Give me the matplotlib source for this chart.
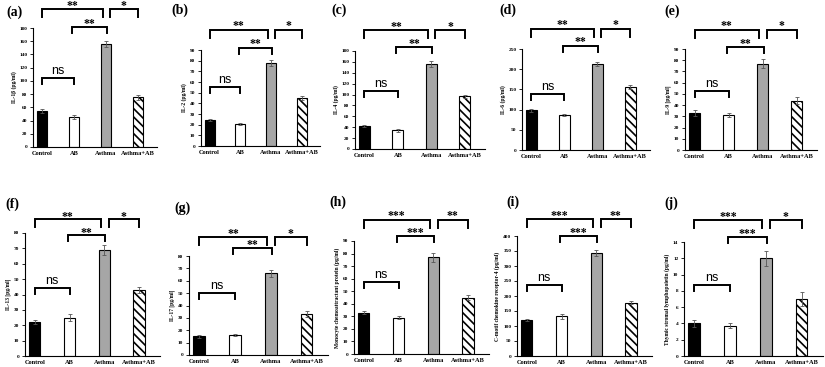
import numpy as np
import matplotlib
matplotlib.use("Agg")
import matplotlib.pyplot as plt
import matplotlib.transforms as mtransforms

plt.rcParams["font.family"] = ["Liberation Serif", "DejaVu Serif"]
plt.rcParams["hatch.linewidth"] = 1.2

groups = ["Control", "AB", "Asthma", "Asthma+AB"]

panel_tags = ["(a)", "(b)", "(c)", "(d)", "(e)", "(f)", "(g)", "(h)", "(i)", "(j)"]
ylabels = ["IL-1\u03b2 (pg/ml)", "IL-2 (pg/ml)", "IL-4 (pg/ml)", "IL-6 (pg/ml)", "IL-9 [pg/ml]",
           "IL-13 [pg/ml]", "IL-17 [pg/ml]", "Monocyte chemoattractant protein (pg/ml)",
           "C-motif chemokine receptor-4 (pg/ml)", "Thymic stromal lymphopoietin (pg/ml)"]
means = [[54, 45, 156, 75],
         [24, 21, 78, 45],
         [43, 34, 156, 97],
         [98, 87, 212, 156],
         [33, 31, 77, 44],
         [22, 25, 69, 43],
         [15, 16, 66, 33],
         [33, 29, 77, 45],
         [120, 132, 345, 177],
         [4.0, 3.7, 12.0, 7.0]]
errs = [[3, 3, 5, 4],
        [1, 1, 3, 2],
        [2, 3, 5, 3],
        [3, 2, 5, 4],
        [3, 2, 4, 3],
        [1.5, 2, 3.5, 2],
        [1.5, 1, 3, 2.5],
        [1.5, 1.5, 3.5, 2],
        [3, 8, 10, 5],
        [0.4, 0.3, 0.9, 0.8]]
ymax = [180, 90, 180, 250, 90, 80, 80, 90, 400, 14]
ystep = [20, 10, 20, 50, 10, 10, 10, 10, 50, 2]
# significance labels: Control-Asthma, AB-Asthma, Asthma-(Asthma+AB)
sig = [["**", "**", "*"]] * 7 + [["***", "***", "**"], ["***", "***", "**"], ["***", "***", "*"]]

# layout in pixels: left, top, right, bottom of each axes
W, H = 825, 367
boxes = [(33, 28, 157, 147), (201, 50, 320, 146), (355, 51, 485, 149), (522, 49, 650, 150),
         (685, 49, 817, 150), (25, 233, 160, 356), (189, 256, 328, 355), (354, 241, 489, 354),
         (517, 236, 652, 356), (684, 242, 823, 356)]
tag_pos = [(6, 12), (171, 10), (331, 10), (499, 10), (664, 11),
           (5, 204), (174, 208), (329, 202), (506, 202), (664, 203)]
# bracket heights (axes fraction): top, middle, ns
br_y = [(1.16, 1.01, 0.58), (1.21, 1.02, 0.61), (1.21, 1.04, 0.59), (1.20, 1.03, 0.55),
        (1.19, 1.02, 0.58), (1.11, 0.98, 0.55), (1.19, 1.08, 0.63), (1.19, 1.04, 0.64),
        (1.14, 1.00, 0.59), (1.19, 1.04, 0.62)]

colors = ["black", "white", "#a6a6a6", "white"]
hatches = [None, None, None, "\\\\\\\\"]

fig = plt.figure(figsize=(W / 100, H / 100), dpi=100)

def bracket(ax, x0, x1, y, drop, label, ns=False):
    tr = mtransforms.blended_transform_factory(ax.transData, ax.transAxes)
    ax.plot([x0, x0, x1, x1], [y - drop, y, y, y - drop], color="black", lw=1.4,
            transform=tr, clip_on=False, solid_joinstyle="miter")
    if ns:
        ax.text((x0 + x1) / 2, y + 0.01, label, transform=tr, ha="center", va="bottom",
                fontsize=9, family="Liberation Sans")
    else:
        ax.text((x0 + x1) / 2, y - 0.025, label, transform=tr, ha="center", va="bottom",
                fontsize=8.5, fontweight="bold")

x = np.arange(len(groups))
for i in range(10):
    l, t, r, b = boxes[i]
    ax = fig.add_axes([l / W, 1 - b / H, (r - l) / W, (b - t) / H])
    for j in range(4):
        ax.bar(x[j], means[i][j], width=0.33, color=colors[j], edgecolor="black",
               linewidth=0.8, hatch=hatches[j], zorder=2)
        ax.errorbar(x[j], means[i][j], yerr=errs[i][j], color="#555555", capsize=1.5,
                    elinewidth=0.6, capthick=0.6, zorder=3)
    ax.set_xlim(-0.28, 3.6)
    ax.set_ylim(0, ymax[i])
    ax.set_yticks(np.arange(0, ymax[i] + ystep[i] / 2, ystep[i]))
    ax.set_xticks(x)
    ax.set_xticklabels(groups, fontsize=4.6, fontweight="bold")
    ax.tick_params(axis="y", labelsize=3.8, length=2, width=0.6, pad=2)
    ax.tick_params(axis="x", length=0, pad=3)
    for lab in ax.get_yticklabels():
        lab.set_fontweight("bold")
    ax.spines["top"].set_visible(False)
    ax.spines["right"].set_visible(False)
    ax.spines["left"].set_linewidth(0.8)
    ax.spines["bottom"].set_linewidth(0.8)
    ax.set_ylabel(ylabels[i], fontsize=4, fontweight="bold", labelpad=2)

    hpx = b - t
    yt, ym, yn = br_y[i]
    bracket(ax, 0, 2 - 0.1, yt, 8 / hpx, sig[i][0])
    bracket(ax, 2 + 0.12, 3, yt, 8 / hpx, sig[i][2])
    bracket(ax, 1 - 0.05, 2 + 0.03, ym, 6 / hpx, sig[i][1])
    bracket(ax, 0, 1, yn, 6 / hpx, "ns", ns=True)

    tx, ty = tag_pos[i]
    fig.text(tx / W, 1 - ty / H, panel_tags[i], fontsize=10, fontweight="bold",
             ha="left", va="center")

fig.savefig("out.png", dpi=100)
